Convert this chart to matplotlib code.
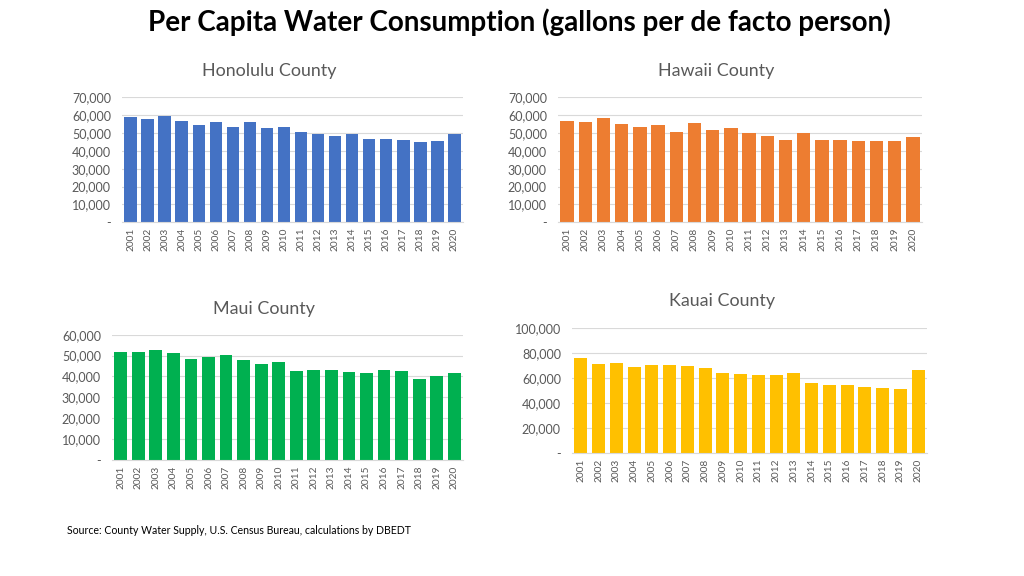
import matplotlib
matplotlib.use("Agg")
import matplotlib.pyplot as plt
from matplotlib.ticker import FuncFormatter

years = [str(y) for y in range(2001, 2021)]

honolulu = [59000, 57600, 59500, 56500, 54700, 56000, 53500, 56000, 52800, 53200,
            50600, 49400, 48500, 49300, 46500, 46600, 45900, 45000, 45300, 49300]
hawaii = [56900, 56200, 58600, 55000, 53200, 54700, 50700, 55400, 51900, 52600,
          50200, 48100, 46300, 49800, 46300, 46300, 45700, 45300, 45700, 47800]
maui = [51500, 51800, 52500, 51000, 48300, 49300, 50400, 48000, 46100, 46900,
        42700, 43200, 43200, 41900, 41800, 43200, 42400, 38900, 40300, 41800]
kauai = [76500, 71700, 72300, 69300, 70400, 70400, 70100, 68000, 64300, 63200,
         62700, 62900, 64300, 56500, 54900, 54400, 53100, 52500, 51700, 66400]

titles = ["Honolulu County", "Hawaii County", "Maui County", "Kauai County"]
colors = ["#4472C4", "#ED7D31", "#00B050", "#FFC000"]

plt.rcParams['font.family'] = ['Lato', 'DejaVu Sans']

W, H = 1024, 576
fig = plt.figure(figsize=(W / 100, H / 100), dpi=100)

# (left, right, top, bottom) in pixels, ymax, ystep, title x, title y
panels = [
    (122, 463, 97.3, 222.3, 70000, 10000, 269, 71),
    (558, 922, 97.3, 222.3, 70000, 10000, 716, 71),
    (112, 463, 334.7, 460, 60000, 10000, 264, 309),
    (572, 927, 328.3, 453.3, 100000, 20000, 722, 301),
]
series = [honolulu, hawaii, maui, kauai]

def fmt(v, pos):
    if v == 0:
        return "-"
    return f"{int(v):,}"

grey = "#595959"
for (l, r, t, b, ymax, ystep, tx, ty), vals, title, col in zip(panels, series, titles, colors):
    ax = fig.add_axes([l / W, 1 - b / H, (r - l) / W, (b - t) / H])
    x = range(len(years))
    ax.bar(x, vals, width=0.73, color=col, zorder=3)
    ax.set_xlim(-0.5, len(years) - 0.5)
    ax.set_ylim(0, ymax)
    ax.set_yticks(range(0, ymax + 1, ystep))
    ax.yaxis.set_major_formatter(FuncFormatter(fmt))
    ax.set_xticks(list(x))
    ax.set_xticklabels(years, rotation=90, fontsize=7.3, color=grey)
    ax.tick_params(axis='y', labelsize=9, colors=grey, length=0, pad=8)
    ax.tick_params(axis='x', length=0, pad=4)
    ax.grid(axis='y', color="#D9D9D9", linewidth=0.8, zorder=0)
    for s in ['top', 'right', 'left']:
        ax.spines[s].set_visible(False)
    ax.spines['bottom'].set_color("#D9D9D9")
    ax.spines['bottom'].set_zorder(4)
    fig.text(tx / W, 1 - ty / H, title, ha='center', va='center', fontsize=12.9, color=grey)

fig.text(519 / W, 1 - 22 / H, "Per Capita Water Consumption (gallons per de facto person)",
         ha='center', va='center', fontsize=20, fontweight='bold', color='black')
fig.text(67 / W, 1 - 530 / H, "Source: County Water Supply, U.S. Census Bureau, calculations by DBEDT",
         ha='left', va='center', fontsize=7.6, color='black')

fig.savefig("out.png", dpi=100, facecolor='white')
